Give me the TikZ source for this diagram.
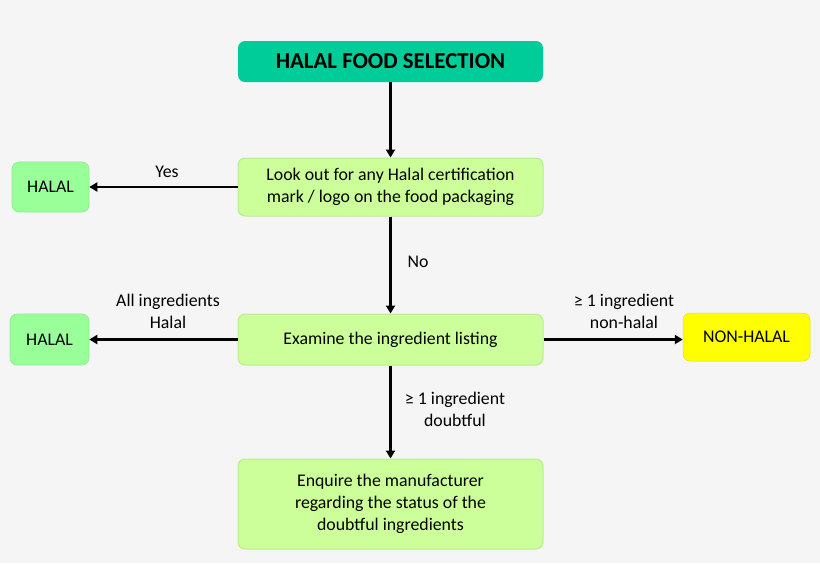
\documentclass[tikz,border=0pt]{standalone}
\usepackage{fontspec}
\setmainfont{Carlito}
\usetikzlibrary{arrows.meta}
\definecolor{bg}{HTML}{F5F5F5}
\definecolor{teal}{HTML}{00CC99}
\definecolor{lgreen}{HTML}{CCFF99}
\definecolor{lgborder}{HTML}{B8EE90}
\definecolor{hgreen}{HTML}{99FF99}
\definecolor{hborder}{HTML}{8EEB8E}
\definecolor{ylw}{HTML}{FFFF00}
\tikzset{
  x=1pt,y=-1pt,
  box/.style={rounded corners=7pt, inner sep=0pt, align=center, font=\fontsize{17.8}{22}\selectfont},
  stepbox/.style={box, fill=lgreen, draw=lgborder, line width=1pt, minimum width=305pt},
  halalbox/.style={box, fill=hgreen, draw=hborder, line width=0.6pt},
  arr/.style={line width=2.4pt, -{Triangle[length=8pt,width=9pt]}},
  lbl/.style={align=center, font=\fontsize{17.8}{22}\selectfont},
}
\begin{document}
\begin{tikzpicture}
\fill[bg] (0,0) rectangle (820,563);
\useasboundingbox (0,0) rectangle (820,563);
\node[box, fill=teal, minimum width=305pt, minimum height=41pt, font=\fontsize{22.8}{26}\bfseries\selectfont] (title) at (390.5,61.5) {HALAL FOOD SELECTION};
\node[stepbox, minimum height=58pt] (look) at (390.5,187) {Look out for any Halal certification\\mark / logo on the food packaging};
\node[halalbox, minimum width=77pt, minimum height=50pt] (h1) at (50.5,187) {HALAL};
\node[stepbox, minimum height=51pt] (exam) at (390.5,339.5) {Examine the ingredient listing};
\node[halalbox, minimum width=79pt, minimum height=51pt] (h2) at (49.5,339.5) {HALAL};
\node[box, fill=ylw, draw=ylw!90!black, line width=0.5pt, minimum width=127pt, minimum height=48pt] (nh) at (746.5,337) {NON-HALAL};
\node[stepbox, minimum height=90pt] (enq) at (390.5,504) {Enquire the manufacturer\\regarding the status of the\\doubtful ingredients};
\draw[arr] (title) -- (look);
\draw[arr] (look.west) -- (h1.east);
\draw[arr] (look) -- (exam);
\draw[arr] (exam.west) -- (h2.east);
\draw[arr] (exam.east) -- (nh.west |- exam.east);
\draw[arr] (exam) -- (enq);
\node[lbl] (yes) at (167,172) {Yes};
\node[lbl] (no) at (418,262) {No};
\node[lbl] (allh) at (168,311) {All ingredients\\Halal};
\node[lbl] (nonh) at (624,311) {≥ 1 ingredient\\non-halal};
\node[lbl] (doubt) at (455,409) {≥ 1 ingredient\\doubtful};
\end{tikzpicture}
\end{document}
